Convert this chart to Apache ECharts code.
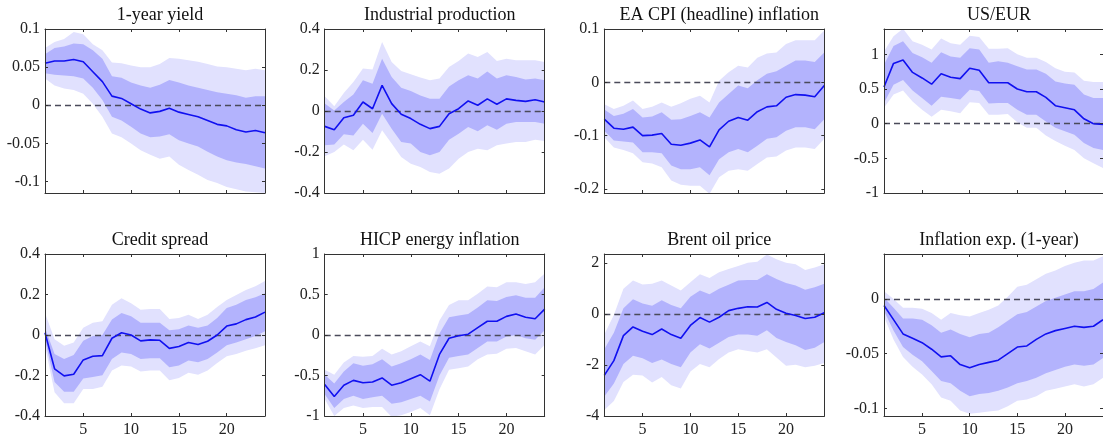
<!DOCTYPE html>
<html>
<head>
<meta charset="utf-8">
<script src="https://cdn.jsdelivr.net/npm/echarts@6/dist/echarts.min.js"></script>
<style>html,body{margin:0;padding:0;background:#fff}#c{width:1103px;height:438px}</style>
</head>
<body>
<div id="c"></div>
<script>
// ---------- DATA ----------
const horizon = [1,2,3,4,5,6,7,8,9,10,11,12,13,14,15,16,17,18,19,20,21,22,23,24];
const xTicks = [5,10,15,20];
const titles = ['1-year yield','Industrial production','EA CPI (headline) inflation','US/EUR',
                'Credit spread','HICP energy inflation','Brent oil price','Inflation exp. (1-year)'];

// 1-year yield
const yield_med   = [0.055,0.058,0.058,0.060,0.057,0.044,0.031,0.012,0.009,0.002,-0.005,-0.010,-0.008,-0.004,-0.009,-0.012,-0.015,-0.020,-0.025,-0.027,-0.032,-0.035,-0.033,-0.036];
const yield_inHi  = [0.067,0.075,0.077,0.081,0.080,0.072,0.061,0.038,0.036,0.030,0.026,0.023,0.027,0.033,0.030,0.026,0.023,0.020,0.017,0.015,0.013,0.010,0.012,0.012];
const yield_inLo  = [0.042,0.040,0.039,0.038,0.035,0.023,0.007,-0.015,-0.020,-0.028,-0.037,-0.042,-0.041,-0.038,-0.046,-0.050,-0.054,-0.061,-0.067,-0.072,-0.075,-0.077,-0.080,-0.083];
const yield_outHi = [0.075,0.083,0.087,0.096,0.093,0.080,0.072,0.056,0.055,0.052,0.050,0.050,0.054,0.062,0.061,0.059,0.057,0.054,0.051,0.050,0.048,0.046,0.048,0.046];
const yield_outLo = [0.035,0.026,0.022,0.020,0.015,0.002,-0.015,-0.037,-0.042,-0.050,-0.059,-0.065,-0.070,-0.067,-0.078,-0.085,-0.091,-0.098,-0.102,-0.107,-0.110,-0.113,-0.114,-0.115];

// Industrial production
const ip_med   = [-0.075,-0.091,-0.033,-0.021,0.044,0.011,0.125,0.036,-0.016,-0.037,-0.065,-0.086,-0.075,-0.013,0.011,0.049,0.028,0.059,0.033,0.059,0.052,0.047,0.055,0.044];
const ip_inHi  = [0.036,0.003,0.044,0.080,0.150,0.133,0.255,0.166,0.114,0.098,0.076,0.060,0.060,0.120,0.150,0.174,0.158,0.193,0.158,0.174,0.166,0.154,0.158,0.150];
const ip_inLo  = [-0.167,-0.164,-0.114,-0.119,-0.062,-0.107,-0.013,-0.086,-0.151,-0.159,-0.200,-0.216,-0.200,-0.140,-0.111,-0.078,-0.099,-0.070,-0.091,-0.062,-0.054,-0.054,-0.054,-0.062];
const ip_outHi = [0.072,0.023,0.088,0.141,0.207,0.202,0.337,0.239,0.195,0.179,0.163,0.150,0.158,0.215,0.244,0.280,0.263,0.288,0.244,0.255,0.247,0.247,0.247,0.239];
const ip_outLo = [-0.221,-0.200,-0.163,-0.192,-0.140,-0.189,-0.094,-0.159,-0.224,-0.257,-0.273,-0.298,-0.306,-0.281,-0.233,-0.200,-0.184,-0.192,-0.167,-0.159,-0.151,-0.151,-0.140,-0.146];

// EA CPI (headline) inflation
const cpi_med   = [-0.069,-0.086,-0.088,-0.084,-0.100,-0.099,-0.096,-0.116,-0.118,-0.114,-0.108,-0.121,-0.089,-0.073,-0.066,-0.071,-0.055,-0.046,-0.044,-0.028,-0.023,-0.024,-0.027,-0.006];
const cpi_inHi  = [-0.051,-0.063,-0.059,-0.050,-0.066,-0.064,-0.056,-0.070,-0.069,-0.063,-0.056,-0.066,-0.038,-0.022,-0.006,-0.011,0.004,0.016,0.021,0.031,0.041,0.041,0.038,0.056];
const cpi_inLo  = [-0.091,-0.109,-0.111,-0.113,-0.131,-0.131,-0.133,-0.156,-0.163,-0.163,-0.159,-0.174,-0.144,-0.131,-0.125,-0.131,-0.119,-0.106,-0.103,-0.091,-0.084,-0.084,-0.088,-0.069];
const cpi_outHi = [-0.041,-0.050,-0.044,-0.034,-0.050,-0.046,-0.038,-0.046,-0.039,-0.031,-0.025,-0.038,0.003,0.019,0.031,0.028,0.046,0.054,0.056,0.072,0.079,0.079,0.079,0.097];
const cpi_outLo = [-0.103,-0.122,-0.127,-0.133,-0.150,-0.152,-0.159,-0.184,-0.192,-0.194,-0.194,-0.209,-0.178,-0.166,-0.163,-0.166,-0.153,-0.141,-0.139,-0.128,-0.122,-0.122,-0.125,-0.106];

// US/EUR
const fx_med   = [0.53,0.87,0.92,0.74,0.66,0.57,0.72,0.67,0.65,0.80,0.77,0.59,0.59,0.59,0.50,0.46,0.46,0.38,0.26,0.23,0.20,0.07,0.00,-0.01];
const fx_inHi  = [0.85,1.12,1.19,1.02,0.96,0.88,1.03,0.97,0.95,1.09,1.07,0.88,0.90,0.88,0.83,0.78,0.78,0.72,0.61,0.58,0.56,0.42,0.37,0.37];
const fx_inLo  = [0.30,0.56,0.63,0.48,0.37,0.26,0.39,0.37,0.35,0.49,0.47,0.29,0.30,0.30,0.20,0.13,0.13,0.03,-0.06,-0.11,-0.16,-0.28,-0.35,-0.38];
const fx_outHi = [1.04,1.26,1.37,1.19,1.14,1.07,1.23,1.16,1.14,1.27,1.25,1.08,1.08,1.09,1.00,0.95,0.95,0.89,0.80,0.75,0.74,0.62,0.60,0.60];
const fx_outLo = [0.23,0.42,0.48,0.32,0.20,0.10,0.20,0.18,0.15,0.31,0.30,0.13,0.13,0.14,0.02,-0.06,-0.06,-0.17,-0.25,-0.32,-0.38,-0.50,-0.57,-0.64];

// Credit spread
const cs_med   = [0.011,-0.167,-0.202,-0.194,-0.123,-0.105,-0.102,-0.016,0.011,0.000,-0.029,-0.024,-0.026,-0.066,-0.057,-0.037,-0.047,-0.031,0.000,0.044,0.055,0.076,0.089,0.113];
const cs_inHi  = [0.036,-0.094,-0.118,-0.099,-0.029,-0.005,0.000,0.076,0.109,0.092,0.060,0.060,0.060,0.023,0.028,0.047,0.036,0.047,0.084,0.133,0.149,0.173,0.186,0.206];
const cs_inLo  = [-0.021,-0.232,-0.280,-0.280,-0.215,-0.207,-0.199,-0.118,-0.086,-0.094,-0.118,-0.115,-0.115,-0.159,-0.151,-0.126,-0.134,-0.118,-0.086,-0.050,-0.037,-0.021,-0.005,0.019];
const cs_outHi = [0.109,-0.021,-0.053,-0.037,0.036,0.060,0.068,0.149,0.181,0.157,0.125,0.128,0.128,0.079,0.084,0.100,0.079,0.100,0.138,0.173,0.198,0.222,0.241,0.267];
const cs_outLo = [-0.053,-0.283,-0.337,-0.337,-0.267,-0.267,-0.256,-0.175,-0.151,-0.155,-0.180,-0.175,-0.175,-0.223,-0.212,-0.186,-0.196,-0.175,-0.138,-0.105,-0.094,-0.078,-0.066,-0.050];

// HICP energy inflation
const en_med   = [-0.61,-0.76,-0.62,-0.56,-0.59,-0.58,-0.53,-0.62,-0.59,-0.54,-0.49,-0.57,-0.24,-0.04,-0.01,0.01,0.09,0.17,0.17,0.23,0.26,0.22,0.20,0.32];
const en_inHi  = [-0.49,-0.60,-0.45,-0.35,-0.38,-0.36,-0.30,-0.39,-0.35,-0.30,-0.24,-0.31,0.02,0.22,0.24,0.26,0.34,0.43,0.42,0.47,0.49,0.46,0.46,0.59];
const en_inLo  = [-0.73,-0.90,-0.79,-0.75,-0.79,-0.77,-0.75,-0.85,-0.83,-0.79,-0.75,-0.82,-0.50,-0.28,-0.26,-0.24,-0.16,-0.08,-0.08,-0.02,0.00,-0.04,-0.06,0.06];
const en_outHi = [-0.43,-0.49,-0.34,-0.26,-0.27,-0.26,-0.17,-0.24,-0.20,-0.14,-0.08,-0.14,0.18,0.37,0.43,0.43,0.51,0.60,0.59,0.65,0.65,0.63,0.65,0.76];
const en_outLo = [-0.79,-1.00,-0.90,-0.87,-0.90,-0.89,-0.89,-1.01,-0.99,-0.95,-0.90,-0.99,-0.67,-0.43,-0.41,-0.39,-0.30,-0.24,-0.23,-0.17,-0.16,-0.20,-0.24,-0.12];

// Brent oil price
const oil_med   = [-2.41,-1.83,-0.85,-0.51,-0.68,-0.81,-0.59,-0.81,-0.95,-0.45,-0.14,-0.32,-0.13,0.13,0.22,0.28,0.27,0.45,0.18,0.03,-0.06,-0.18,-0.13,0.05];
const oil_inHi  = [-1.38,-0.74,0.22,0.58,0.41,0.32,0.54,0.35,0.22,0.67,0.92,0.77,0.99,1.14,1.31,1.33,1.33,1.56,1.37,1.21,1.12,0.95,1.05,1.18];
const oil_inLo  = [-3.24,-2.73,-1.96,-1.64,-1.74,-1.92,-1.79,-1.96,-2.09,-1.51,-1.19,-1.35,-1.13,-0.90,-0.81,-0.81,-0.85,-0.64,-0.94,-1.10,-1.23,-1.41,-1.32,-1.10];
const oil_outHi = [-0.81,-0.04,0.99,1.31,1.15,1.18,1.31,1.12,0.92,1.24,1.56,1.41,1.63,1.76,1.88,2.01,2.05,2.33,2.14,2.01,1.95,1.72,1.82,1.95];
const oil_outLo = [-3.76,-3.41,-2.67,-2.38,-2.41,-2.69,-2.47,-2.79,-2.92,-2.26,-1.96,-2.09,-1.77,-1.51,-1.38,-1.45,-1.51,-1.38,-1.71,-2.03,-1.99,-2.09,-2.03,-1.92];

// Inflation exp. (1-year)
const ie_med   = [-0.006,-0.019,-0.032,-0.036,-0.040,-0.046,-0.053,-0.052,-0.060,-0.063,-0.060,-0.058,-0.056,-0.050,-0.044,-0.043,-0.037,-0.032,-0.029,-0.027,-0.025,-0.026,-0.025,-0.019];
const ie_inHi  = [0.001,-0.008,-0.018,-0.018,-0.019,-0.024,-0.031,-0.028,-0.032,-0.035,-0.032,-0.031,-0.026,-0.020,-0.014,-0.012,-0.007,-0.002,0.001,0.004,0.007,0.007,0.009,0.015];
const ie_inLo  = [-0.011,-0.029,-0.044,-0.051,-0.057,-0.066,-0.075,-0.077,-0.084,-0.089,-0.087,-0.086,-0.084,-0.081,-0.077,-0.075,-0.072,-0.068,-0.065,-0.062,-0.060,-0.061,-0.060,-0.054];
const ie_outHi = [0.007,0.000,-0.008,-0.008,-0.009,-0.013,-0.019,-0.013,-0.015,-0.016,-0.013,-0.010,-0.006,0.002,0.011,0.013,0.018,0.023,0.026,0.030,0.033,0.035,0.035,0.039];
const ie_outLo = [-0.016,-0.037,-0.053,-0.062,-0.069,-0.078,-0.090,-0.093,-0.102,-0.105,-0.104,-0.103,-0.102,-0.098,-0.093,-0.092,-0.089,-0.084,-0.082,-0.080,-0.078,-0.080,-0.078,-0.072];

// y tick labels per panel
const yTicks1 = [-0.1,-0.05,0,0.05,0.1];
const yTicks2 = [-0.4,-0.2,0,0.2,0.4];
const yTicks3 = [-0.2,-0.1,0,0.1];
const yTicks4 = [-1,-0.5,0,0.5,1];
const yTicks5 = [-0.4,-0.2,0,0.2,0.4];
const yTicks6 = [-1,-0.5,0,0.5,1];
const yTicks7 = [-4,-2,0,2];
const yTicks8 = [-0.1,-0.05,0];

// ---------- CHART ----------
const panels = [
  {med:yield_med,inHi:yield_inHi,inLo:yield_inLo,outHi:yield_outHi,outLo:yield_outLo,ticks:yTicks1,min:-0.115,max:0.1},
  {med:ip_med,inHi:ip_inHi,inLo:ip_inLo,outHi:ip_outHi,outLo:ip_outLo,ticks:yTicks2,min:-0.4,max:0.4},
  {med:cpi_med,inHi:cpi_inHi,inLo:cpi_inLo,outHi:cpi_outHi,outLo:cpi_outLo,ticks:yTicks3,min:-0.2075,max:0.1},
  {med:fx_med,inHi:fx_inHi,inLo:fx_inLo,outHi:fx_outHi,outLo:fx_outLo,ticks:yTicks4,min:-1,max:1.366},
  {med:cs_med,inHi:cs_inHi,inLo:cs_inLo,outHi:cs_outHi,outLo:cs_outLo,ticks:yTicks5,min:-0.4,max:0.4},
  {med:en_med,inHi:en_inHi,inLo:en_inLo,outHi:en_outHi,outLo:en_outLo,ticks:yTicks6,min:-1,max:1},
  {med:oil_med,inHi:oil_inHi,inLo:oil_inLo,outHi:oil_outHi,outLo:oil_outLo,ticks:yTicks7,min:-4,max:2.35},
  {med:ie_med,inHi:ie_inHi,inLo:ie_inLo,outHi:ie_outHi,outLo:ie_outLo,ticks:yTicks8,min:-0.107,max:0.041}
];

const colLeft = [45, 324.7, 604.3, 884];
const rowTop = [29, 254];
const W = 220, H = 164;
const FONT = '"Liberation Serif", "Times New Roman", serif';
const AX = '#333333';
const OUTER = '#e1e1fe';
const INNER = '#b3b3fd';
const LINE = '#1010f0';

const grid = [], xAxis = [], yAxis = [], series = [], title = [];
const pairs = (ys) => horizon.map((h, k) => [h, ys[k]]);

panels.forEach((p, i) => {
  const r = Math.floor(i / 4), c = i % 4;
  grid.push({left: colLeft[c], top: rowTop[r], width: W, height: H, containLabel: false});
  title.push({
    text: titles[i], left: colLeft[c] + W / 2, top: rowTop[r] - 28, textAlign: 'center',
    textStyle: {fontFamily: FONT, fontSize: 18, fontWeight: 'normal', color: '#111'}
  });
  const xBase = {
    type: 'value', gridIndex: i, min: 1, max: 24, z: 10,
    axisLine: {show: true, onZero: false, lineStyle: {color: AX, width: 1}},
    axisTick: {show: true, inside: true, length: 3, customValues: xTicks, lineStyle: {color: AX}},
    splitLine: {show: false}
  };
  xAxis.push(Object.assign({}, xBase, {
    position: 'bottom',
    axisLabel: {show: r === 1, customValues: xTicks, margin: 6, fontFamily: FONT, fontSize: 16, color: '#222'}
  }));
  xAxis.push(Object.assign({}, xBase, {position: 'top', axisLabel: {show: false}}));
  const yBase = {
    type: 'value', gridIndex: i, min: p.min, max: p.max, z: 10,
    axisLine: {show: true, onZero: false, lineStyle: {color: AX, width: 1}},
    axisTick: {show: true, inside: true, length: 3, customValues: p.ticks, lineStyle: {color: AX}},
    splitLine: {show: false}
  };
  yAxis.push(Object.assign({}, yBase, {
    position: 'left',
    axisLabel: {show: true, customValues: p.ticks, margin: 5, fontFamily: FONT, fontSize: 16, color: '#222',
                formatter: v => String(v)}
  }));
  yAxis.push(Object.assign({}, yBase, {position: 'right', axisLabel: {show: false}}));

  const xi = 2 * i, yi = 2 * i;
  // nested bands: each curve filled down to the axis start, painted upper-to-lower
  const band = (ys, color, z) => ({
    type: 'line', xAxisIndex: xi, yAxisIndex: yi, symbol: 'none', silent: true, z: z,
    data: pairs(ys), lineStyle: {width: 0, opacity: 0},
    areaStyle: {color: color, opacity: 1, origin: 'start'}
  });
  series.push(band(p.outHi, OUTER, 1));
  series.push(band(p.inHi, INNER, 1));
  series.push(band(p.inLo, OUTER, 1));
  series.push(band(p.outLo, '#ffffff', 1));
  series.push({type: 'line', xAxisIndex: xi, yAxisIndex: yi, symbol: 'none', silent: true, z: 2,
               data: [], markLine: {silent: true, symbol: 'none', label: {show: false},
                 lineStyle: {color: '#4a4a5a', type: [6, 4], width: 1.3}, data: [{yAxis: 0}]}});
  series.push({type: 'line', xAxisIndex: xi, yAxisIndex: yi, symbol: 'none', silent: true, z: 5,
               data: pairs(p.med), lineStyle: {color: LINE, width: 1.6}});
});

const chart = echarts.init(document.getElementById('c'), null, {renderer: 'canvas'});
chart.setOption({animation: false, backgroundColor: '#fff', title, grid, xAxis, yAxis, series});
</script>
</body>
</html>
